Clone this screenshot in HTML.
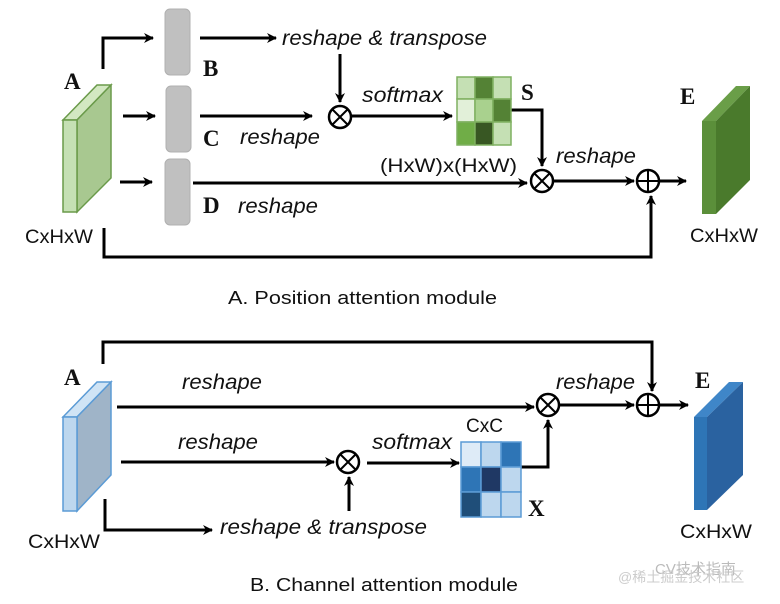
<!DOCTYPE html>
<html><head><meta charset="utf-8"><style>
html,body{margin:0;padding:0;background:#fff;}
svg{display:block;}
text{font-family:"Liberation Sans",sans-serif;fill:#111;}
.it{font-style:italic;font-size:21px;}
.lb{font-family:"Liberation Serif",serif;font-weight:bold;font-size:23px;}
.rg{font-size:19px;}
</style></head><body>
<svg width="780" height="604" viewBox="0 0 780 604" xmlns="http://www.w3.org/2000/svg">
<defs>
<marker id="ar" markerWidth="10" markerHeight="10" refX="9" refY="5" orient="auto" markerUnits="userSpaceOnUse">
<path d="M0,0 L10,5 L0,10 L3,5 Z" fill="#000"/>
</marker>
</defs>
<g stroke="#000" stroke-width="3" fill="none">
<path d="M103,69 V38 H153" marker-end="url(#ar)"/>
<path d="M200,38 H276" marker-end="url(#ar)"/>
<path d="M340,54 V102" marker-end="url(#ar)"/>
<path d="M123,116 H155" marker-end="url(#ar)"/>
<path d="M200,116 H312" marker-end="url(#ar)"/>
<path d="M351,116 H452" marker-end="url(#ar)"/>
<path d="M120,182 H152" marker-end="url(#ar)"/>
<path d="M193,183 H527" marker-end="url(#ar)"/>
<path d="M511,110 H542 V166" marker-end="url(#ar)"/>
<path d="M554,181 H634" marker-end="url(#ar)"/>
<path d="M660,181 H686" marker-end="url(#ar)"/>
<path d="M104,228 V257 H651 V196" marker-end="url(#ar)"/>
<path d="M103,364 V342 H652 V391" marker-end="url(#ar)"/>
<path d="M117,407 H534" marker-end="url(#ar)"/>
<path d="M121,462 H334" marker-end="url(#ar)"/>
<path d="M367,463 H459" marker-end="url(#ar)"/>
<path d="M349,511 V477" marker-end="url(#ar)"/>
<path d="M105,499 V530 H212" marker-end="url(#ar)"/>
<path d="M521,467 H548 V420" marker-end="url(#ar)"/>
<path d="M560,405 H634" marker-end="url(#ar)"/>
<path d="M660,405 H688" marker-end="url(#ar)"/>
</g>
<g stroke="#000" stroke-width="2.5" fill="#fff">
<circle cx="340" cy="117" r="11"/><circle cx="542" cy="181" r="11"/><circle cx="648" cy="181" r="11"/>
<circle cx="548" cy="405" r="11"/><circle cx="348" cy="462" r="11"/><circle cx="648" cy="405" r="11"/>
</g>
<g stroke="#000" stroke-width="2">
<path d="M332,109 L348,125 M348,109 L332,125"/>
<path d="M534,173 L550,189 M550,173 L534,189"/>
<path d="M648,170 V192 M637,181 H659"/>
<path d="M540,397 L556,413 M556,397 L540,413"/>
<path d="M340,454 L356,470 M356,454 L340,470"/>
<path d="M648,394 V416 M637,405 H659"/>
</g>
<polygon points="63,120 97,85 111,85 77,120" fill="#d3e8c2" stroke="#6a9a4a" stroke-width="1.5"/>
<polygon points="77,120 111,85 111,178 77,212" fill="#a8c890" stroke="#6a9a4a" stroke-width="1.5"/>
<rect x="63" y="120" width="14" height="92" fill="#c5e0b4" stroke="#6a9a4a" stroke-width="1.5"/>
<rect x="165" y="9" width="25" height="66" rx="5" fill="#c0c0c0" stroke="#b0b0b0"/>
<rect x="166" y="86" width="25" height="66" rx="5" fill="#c0c0c0" stroke="#b0b0b0"/>
<rect x="165" y="159" width="25" height="66" rx="5" fill="#c0c0c0" stroke="#b0b0b0"/>
<g stroke="#7fb060" stroke-width="1.5">
<rect x="457" y="77" width="18" height="22" fill="#c5e0b4"/><rect x="475" y="77" width="18" height="22" fill="#548235"/><rect x="493" y="77" width="18" height="22" fill="#c5e0b4"/>
<rect x="457" y="99" width="18" height="23" fill="#e2f0d9"/><rect x="475" y="99" width="18" height="23" fill="#a9d18e"/><rect x="493" y="99" width="18" height="23" fill="#548235"/>
<rect x="457" y="122" width="18" height="23" fill="#70ad47"/><rect x="475" y="122" width="18" height="23" fill="#385723"/><rect x="493" y="122" width="18" height="23" fill="#c5e0b4"/>
</g>
<polygon points="702,121 736,86 750,86 716,121" fill="#6a9e48"/>
<polygon points="716,121 750,86 750,180 716,214" fill="#4a7a2c"/>
<rect x="702" y="121" width="14" height="93" fill="#5b8f3a"/>
<polygon points="63,417 97,382 111,382 77,417" fill="#d0e4f5" stroke="#5b9bd5" stroke-width="1.5"/>
<polygon points="77,417 111,382 111,475 77,511" fill="#9fb4c8" stroke="#5b9bd5" stroke-width="1.5"/>
<rect x="63" y="417" width="14" height="94" fill="#bdd7ee" stroke="#5b9bd5" stroke-width="1.5"/>
<g stroke="#5b9bd5" stroke-width="1.5">
<rect x="461" y="442" width="20" height="25" fill="#deebf7"/><rect x="481" y="442" width="20" height="25" fill="#bdd7ee"/><rect x="501" y="442" width="20" height="25" fill="#2e75b6"/>
<rect x="461" y="467" width="20" height="25" fill="#2e75b6"/><rect x="481" y="467" width="20" height="25" fill="#1f3864"/><rect x="501" y="467" width="20" height="25" fill="#bdd7ee"/>
<rect x="461" y="492" width="20" height="25" fill="#1f4e79"/><rect x="481" y="492" width="20" height="25" fill="#bdd7ee"/><rect x="501" y="492" width="20" height="25" fill="#bdd7ee"/>
</g>
<polygon points="694,417 729,382 743,382 707,417" fill="#3f86c8"/>
<polygon points="707,417 743,382 743,475 707,510" fill="#2a62a0"/>
<rect x="694" y="417" width="13" height="93" fill="#2e75b6"/>
<text class="lb" x="64" y="89">A</text>
<text class="lb" x="203" y="76">B</text>
<text class="lb" x="203" y="146">C</text>
<text class="lb" x="203" y="213">D</text>
<text class="lb" x="521" y="100">S</text>
<text class="lb" x="680" y="104">E</text>
<text class="lb" x="64" y="385">A</text>
<text class="lb" x="528" y="516">X</text>
<text class="lb" x="695" y="388">E</text>
<text class="rg" x="25" y="243" textLength="68" lengthAdjust="spacingAndGlyphs">CxHxW</text>
<text class="rg" x="690" y="242" textLength="68" lengthAdjust="spacingAndGlyphs">CxHxW</text>
<text class="rg" x="380" y="172" textLength="137" lengthAdjust="spacingAndGlyphs">(HxW)x(HxW)</text>
<text class="rg" x="28" y="548" textLength="72" lengthAdjust="spacingAndGlyphs">CxHxW</text>
<text class="rg" x="680" y="538" textLength="72" lengthAdjust="spacingAndGlyphs">CxHxW</text>
<text class="rg" x="466" y="432" textLength="37" lengthAdjust="spacingAndGlyphs">CxC</text>
<text class="it" x="282" y="45" textLength="205" lengthAdjust="spacingAndGlyphs">reshape &amp; transpose</text>
<text class="it" x="362" y="102" textLength="81" lengthAdjust="spacingAndGlyphs">softmax</text>
<text class="it" x="240" y="144" textLength="80" lengthAdjust="spacingAndGlyphs">reshape</text>
<text class="it" x="238" y="213" textLength="80" lengthAdjust="spacingAndGlyphs">reshape</text>
<text class="it" x="556" y="163" textLength="80" lengthAdjust="spacingAndGlyphs">reshape</text>
<text class="it" x="182" y="389" textLength="80" lengthAdjust="spacingAndGlyphs">reshape</text>
<text class="it" x="178" y="449" textLength="80" lengthAdjust="spacingAndGlyphs">reshape</text>
<text class="it" x="372" y="449" textLength="80" lengthAdjust="spacingAndGlyphs">softmax</text>
<text class="it" x="556" y="389" textLength="79" lengthAdjust="spacingAndGlyphs">reshape</text>
<text class="it" x="220" y="534" textLength="207" lengthAdjust="spacingAndGlyphs">reshape &amp; transpose</text>
<text x="228" y="304" style="font-size:18px" textLength="269" lengthAdjust="spacingAndGlyphs">A. Position attention module</text>
<text x="250" y="591" style="font-size:18px" textLength="268" lengthAdjust="spacingAndGlyphs">B. Channel attention module</text>
<text x="655" y="574" style="font-size:15px;fill:#bbb;font-family:'Liberation Sans','Noto Sans CJK SC',sans-serif">CV技术指南</text>
<text x="618" y="582" style="font-size:14px;fill:#ccc;font-family:'Liberation Sans','Noto Sans CJK SC',sans-serif">@稀土掘金技术社区</text>
</svg>
</body></html>
